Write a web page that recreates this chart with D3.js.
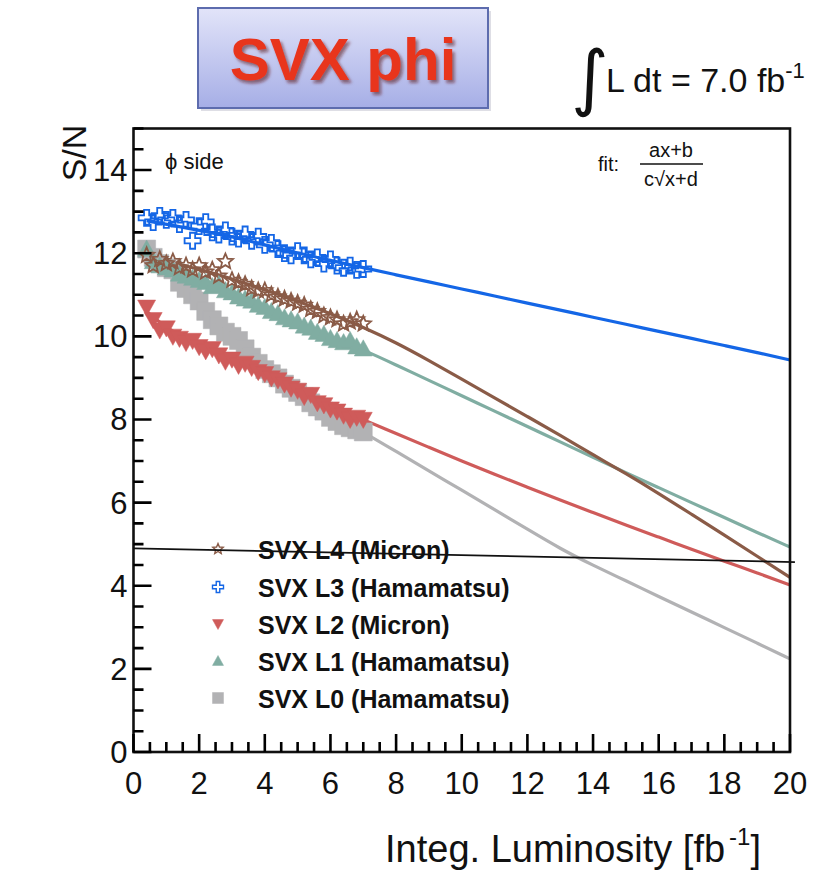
<!DOCTYPE html>
<html><head><meta charset="utf-8">
<script src="https://cdn.jsdelivr.net/npm/d3@7"></script>
<style>
html,body{margin:0;padding:0;background:#fff;}
svg{display:block;font-family:"Liberation Sans",Arial,sans-serif;}
</style></head>
<body>
<svg id="chart" width="820" height="870"></svg>
<script>
// ---------- data ----------
const measX = [0.4,0.6,0.8,1.0,1.2,1.4,1.6,1.8,2.0,2.2,2.4,2.6,2.8,3.0,3.2,3.4,3.6,3.8,4.0,4.2,4.4,4.6,4.8,5.0,5.2,5.4,5.6,5.8,6.0,6.2,6.4,6.6,6.8,7.0];
const L4meas = [11.95,11.7,11.85,11.75,11.8,11.65,11.7,11.6,11.7,11.55,11.6,11.45,11.8,11.35,11.3,11.25,11.15,11.1,11.1,11.0,10.95,10.9,10.85,10.8,10.75,10.65,10.6,10.5,10.45,10.4,10.3,10.35,10.4,10.3];
const L3meas = [12.85,12.75,12.9,12.8,12.85,12.7,12.8,12.3,12.65,12.75,12.5,12.45,12.55,12.4,12.35,12.45,12.3,12.4,12.2,12.25,12.1,12.0,11.95,12.05,11.95,11.85,11.9,11.75,11.85,11.7,11.65,11.7,11.6,11.62];
const L2meas = [10.7,10.4,10.15,10.2,10.0,9.95,9.85,9.9,9.75,9.65,9.7,9.55,9.4,9.45,9.3,9.35,9.25,9.15,9.1,9.0,8.95,8.85,8.75,8.7,8.55,8.6,8.4,8.35,8.25,8.2,8.1,8.0,8.05,8.0];
const L1meas = [12.1,11.8,11.7,11.65,11.6,11.5,11.45,11.4,11.35,11.3,11.2,11.25,11.1,11.05,10.95,10.9,10.85,10.75,10.7,10.6,10.55,10.45,10.4,10.35,10.25,10.2,10.1,10.05,9.95,9.9,9.85,9.9,9.75,9.7];
const L0meas = [12.1,11.9,11.75,11.65,11.6,11.3,11.15,11.0,10.85,10.6,10.4,10.25,10.1,10.0,9.9,9.7,9.5,9.35,9.2,9.1,9.0,8.85,8.75,8.65,8.55,8.4,8.3,8.2,8.05,7.95,7.85,7.8,7.75,7.7];

const fitX  = [0.4,1,2,3,4,5,6,7,8,9,10,11,12,13,14,15,16,17,18,19,20];
const L4fit = [11.9,11.8,11.62,11.38,11.12,10.85,10.55,10.22,9.85,9.42,8.97,8.52,8.07,7.62,7.15,6.7,6.22,5.72,5.22,4.71,4.2];
const L3fit = [12.78,12.7,12.55,12.4,12.2,12.0,11.83,11.65,11.48,11.31,11.14,10.97,10.8,10.63,10.46,10.29,10.12,9.95,9.78,9.61,9.43];
const L2fit = [10.6,10.2,9.75,9.42,9.1,8.7,8.32,8.0,7.66,7.33,7.0,6.68,6.37,6.06,5.76,5.46,5.17,4.88,4.59,4.31,4.02];
const L1fit = [12.0,11.75,11.4,11.08,10.75,10.35,9.98,9.68,9.31,8.94,8.57,8.2,7.83,7.46,7.09,6.72,6.36,6.0,5.64,5.28,4.93];
const L0fit = [12.1,11.65,10.9,10.02,9.25,8.65,8.12,7.7,7.23,6.76,6.3,5.83,5.36,4.89,4.49,4.12,3.74,3.37,2.99,2.62,2.24];

const refLineX = [0, 20.15];
const refLineY = [4.9, 4.57];

const layerNames = ["SVX L4 (Micron)","SVX L3 (Hamamatsu)","SVX L2 (Micron)","SVX L1 (Hamamatsu)","SVX L0 (Hamamatsu)"];
const layerColors = ["#8a5b47","#1466e6","#cf5b5a","#80ada2","#b2b2b4"];
const layerMarkers = ["star","plus","tridown","triup","square"];

const xMajor = [0,2,4,6,8,10,12,14,16,18,20];
const yMajor = [0,2,4,6,8,10,12,14];

// ---------- layout ----------
const svg = d3.select("#chart");
const x = d3.scaleLinear().domain([0,20]).range([133.5,790]);
const y = d3.scaleLinear().domain([0,15]).range([752,128.5]);

function markerPath(type, s){
  const h = s/2;
  switch(type){
    case "square": return `M${-h},${-h}H${h}V${h}H${-h}Z`;
    case "triup": return `M0,${-h}L${h},${h*0.8}L${-h},${h*0.8}Z`;
    case "tridown": return `M0,${h}L${h},${-h*0.8}L${-h},${-h*0.8}Z`;
    case "plus": { const a=h*0.32; return `M${-a},${-h}H${a}V${-a}H${h}V${a}H${a}V${h}H${-a}V${a}H${-h}V${-a}H${-a}Z`; }
    case "star": {
      let p=""; for(let i=0;i<10;i++){ const r = i%2===0 ? h : h*0.45; const ang = -Math.PI/2 + i*Math.PI/5; p += (i?"L":"M")+(r*Math.cos(ang)).toFixed(2)+","+(r*Math.sin(ang)).toFixed(2);} return p+"Z"; }
  }
}

// ---------- title box ----------
const defs = svg.append("defs");
const grad = defs.append("linearGradient").attr("id","tg").attr("x1",0).attr("y1",0).attr("x2",0).attr("y2",1);
grad.append("stop").attr("offset","0%").attr("stop-color","#e2e4f9");
grad.append("stop").attr("offset","100%").attr("stop-color","#a6aee6");
const sh = defs.append("filter").attr("id","ts").attr("x","-10%").attr("y","-10%").attr("width","130%").attr("height","140%");
sh.append("feDropShadow").attr("dx",2.5).attr("dy",3).attr("stdDeviation",1.5).attr("flood-color","#5a1208").attr("flood-opacity",0.55);
svg.append("rect").attr("x",201).attr("y",11).attr("width",290).attr("height",100).attr("fill","#c8c8d4").attr("opacity",0.6);
svg.append("rect").attr("x",198).attr("y",8).attr("width",290).attr("height",100)
  .attr("fill","url(#tg)").attr("stroke","#5d6cae").attr("stroke-width",2);
svg.append("text").attr("x",343).attr("y",80).attr("text-anchor","middle").attr("filter","url(#ts)")
  .attr("font-size",60).attr("font-weight","bold").attr("fill","#e8341f").text("SVX phi");

// integral label
svg.append("text").attr("x",571).attr("y",102).attr("font-size",72).attr("font-family","DejaVu Sans").attr("fill","#111").text("∫");
const it = svg.append("text").attr("x",606).attr("y",92).attr("font-size",34).attr("fill","#111");
it.append("tspan").text("L dt = 7.0 fb");
it.append("tspan").attr("dy",-14).attr("font-size",22).text("-1");

// ---------- fit curves ----------
const series = [
  {meas:L0meas, fit:L0fit, i:4},
  {meas:L1meas, fit:L1fit, i:3},
  {meas:L2meas, fit:L2fit, i:2},
  {meas:L4meas, fit:L4fit, i:0},
  {meas:L3meas, fit:L3fit, i:1}
];
const line = d3.line().x(d=>x(d[0])).y(d=>y(d[1])).curve(d3.curveBasis);
const plot = svg.append("g");
series.forEach(s=>{
  plot.append("path").datum(fitX.map((v,k)=>[v,s.fit[k]]))
    .attr("d",line).attr("fill","none").attr("stroke",layerColors[s.i]).attr("stroke-width",3.2);
});
// ---------- markers ----------
series.forEach(s=>{
  const t = layerMarkers[s.i];
  const open = (t==="star"||t==="plus");
  const size = t==="square"?18 : t==="plus"?16 : t==="star"?16 : 18;
  plot.append("g").selectAll("path").data(measX.map((v,k)=>[v,s.meas[k]])).join("path")
    .attr("transform",d=>`translate(${x(d[0])},${y(d[1])})`)
    .attr("d",markerPath(t,size))
    .attr("fill",open?"none":layerColors[s.i])
    .attr("stroke",layerColors[s.i])
    .attr("stroke-width",open?1.8:0.5);
});

// frame
svg.append("rect").attr("x",x(0)).attr("y",y(15)).attr("width",x(20)-x(0)).attr("height",y(0)-y(15))
  .attr("fill","none").attr("stroke","#111").attr("stroke-width",2.6);

// ---------- ticks (inward), one path ----------
const yMinorV = d3.range(0,15.01,0.5).filter(v=>v%2!==0);
const xMinorV = d3.range(0,20.01,0.5).filter(v=>v%2!==0);
let td = "";
yMajor.forEach(v=>{ td += `M${x(0)},${y(v)}h18`; });
yMinorV.forEach(v=>{ td += `M${x(0)},${y(v)}h10`; });
xMajor.forEach(v=>{ td += `M${x(v)},${y(0)}v-18`; });
xMinorV.forEach(v=>{ td += `M${x(v)},${y(0)}v-10`; });
svg.append("path").attr("d",td).attr("fill","none").attr("stroke","#000").attr("stroke-width",2.6);

const lab = svg.append("g").attr("font-size",31).attr("fill","#111");
lab.selectAll("text.yl").data(yMajor).join("text").attr("class","yl")
  .attr("x",x(0)-6).attr("y",d=>y(d)+11).attr("text-anchor","end").text(d=>d3.format("d")(d));
lab.selectAll("text.xl").data(xMajor).join("text").attr("class","xl")
  .attr("x",d=>x(d)).attr("y",y(0)+42).attr("text-anchor","middle").text(d=>d3.format("d")(d));

// axis titles
svg.append("text").attr("transform",`translate(86,153) rotate(-90)`).attr("text-anchor","middle")
  .attr("font-size",34).attr("fill","#111").text("S/N");
const xt = svg.append("text").attr("x",385).attr("y",862).attr("font-size",38).attr("fill","#111");
xt.append("tspan").text("Integ. Luminosity [fb");
xt.append("tspan").attr("dx",4).attr("dy",-17).attr("font-size",24).text("-1");
xt.append("tspan").attr("dy",17).attr("font-size",38).text("]");

// annotations
svg.append("text").attr("x",165).attr("y",169).attr("font-size",22).attr("fill","#111").text("ϕ side");
svg.append("text").attr("x",598).attr("y",171).attr("font-size",20).attr("fill","#111").text("fit:");
svg.append("text").attr("x",671).attr("y",157).attr("text-anchor","middle").attr("font-size",20).attr("fill","#111").text("ax+b");
svg.append("line").attr("x1",640).attr("x2",703).attr("y1",164).attr("y2",164).attr("stroke","#111").attr("stroke-width",1.6);
svg.append("text").attr("x",671).attr("y",186).attr("text-anchor","middle").attr("font-size",20).attr("fill","#111").text("c√x+d");

// legend
const legY = [549,587,624,661,698];
const leg = svg.append("g");
layerNames.forEach((n,i)=>{
  const t = layerMarkers[i];
  const open = (t==="star"||t==="plus");
  leg.append("path").attr("transform",`translate(218,${legY[i]})`).attr("d",markerPath(t,11))
    .attr("fill",open?"none":layerColors[i]).attr("stroke",layerColors[i]).attr("stroke-width",open?1.4:0.5);
  leg.append("text").attr("x",258).attr("y",legY[i]+10).attr("font-size",25).attr("font-weight","bold").attr("fill","#111").text(n);
});

// reference line
svg.append("line").attr("x1",x(refLineX[0])).attr("x2",x(refLineX[1]))
  .attr("y1",y(refLineY[0])).attr("y2",y(refLineY[1])).attr("stroke","#111").attr("stroke-width",1.8);
</script>
</body></html>
